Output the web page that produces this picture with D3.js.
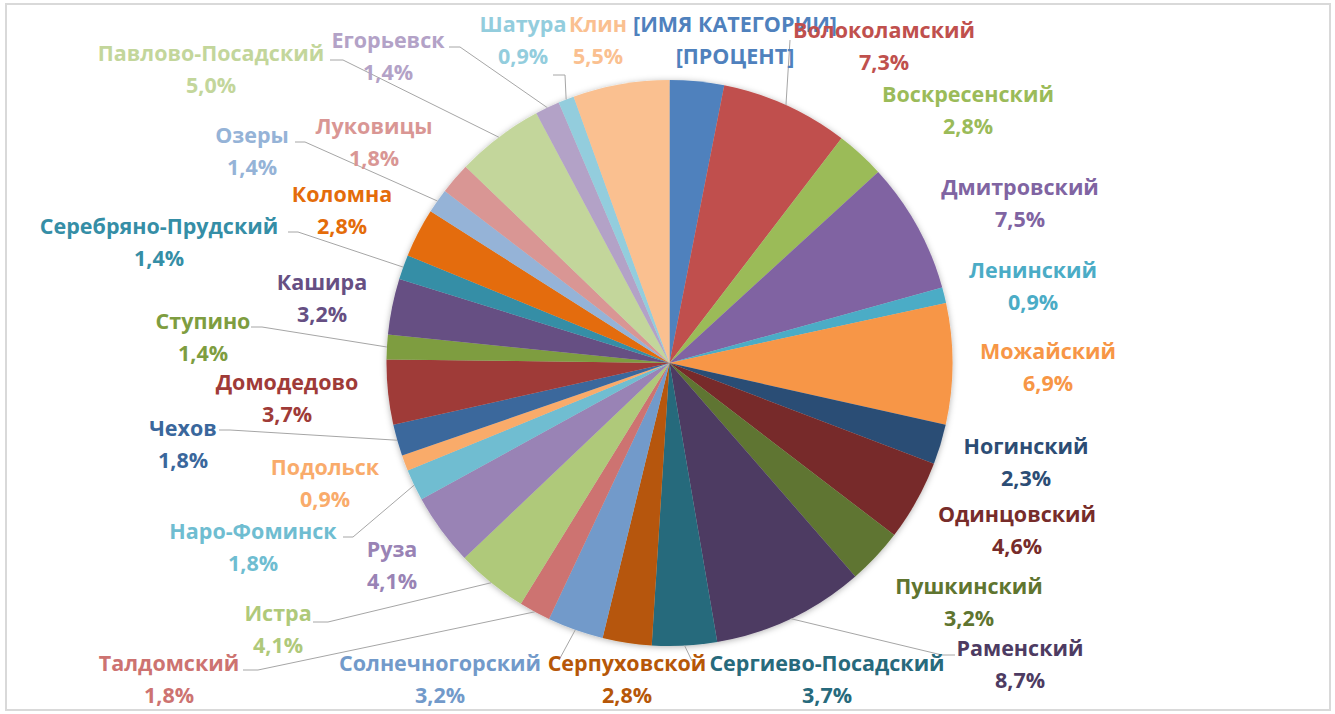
<!DOCTYPE html>
<html lang="ru">
<head>
<meta charset="utf-8">
<script src="https://cdn.jsdelivr.net/npm/d3@7"></script>
<style>
  html, body { margin: 0; padding: 0; background: #fff; }
  svg { display: block; }
  .lbl { font-family: "Open Sans", "Noto Sans", sans-serif; font-weight: 700; font-size: 21.5px; }
</style>
</head>
<body>
<svg id="chart" width="1335" height="714"></svg>
<script>
// Доли районов (в процентах), по часовой стрелке от 12 часов
const categories = [
  "[ИМЯ КАТЕГОРИИ]", "Волоколамский", "Воскресенский", "Дмитровский", "Ленинский",
  "Можайский", "Ногинский", "Одинцовский", "Пушкинский", "Раменский",
  "Сергиево-Посадский", "Серпуховской", "Солнечногорский", "Талдомский", "Истра",
  "Руза", "Наро-Фоминск", "Подольск", "Чехов", "Домодедово",
  "Ступино", "Кашира", "Серебряно-Прудский", "Коломна", "Озеры",
  "Луковицы", "Павлово-Посадский", "Егорьевск", "Шатура", "Клин"
];
const shares = [
  3.1, 7.3, 2.8, 7.5, 0.9,
  6.9, 2.3, 4.6, 3.2, 8.7,
  3.7, 2.8, 3.2, 1.8, 4.1,
  4.1, 1.8, 0.9, 1.8, 3.7,
  1.4, 3.2, 1.4, 2.8, 1.4,
  1.8, 5.0, 1.4, 0.9, 5.5
];
// Placeholder text shown instead of a value for the first slice
const placeholderPercent = "[ПРОЦЕНТ]";

// Office palette: base, darker, lighter, darker-2, lighter-2
const palette = [
  "#4F81BD", "#C0504D", "#9BBB59", "#8064A2", "#4BACC6", "#F79646",
  "#2C4D75", "#772C2A", "#5F7530", "#4D3B62", "#276A7C", "#B65708",
  "#729ACA", "#CD7371", "#AFC97A", "#9983B5", "#6FBDD1", "#F9AB6B",
  "#3A679C", "#9F3B38", "#7E9D40", "#664F83", "#358EA6", "#E46C0A",
  "#95B3D7", "#D99694", "#C3D69B", "#B3A2C7", "#93CDDD", "#FAC090"
];

// Label placement (centre of the name line), one per category
const labelPos = [
  [735, 24], [884, 30], [968, 94], [1020, 187], [1033, 270],
  [1048, 351], [1026, 446], [1017, 514], [969, 586], [1020, 648],
  [827, 663], [627, 663], [440, 663], [169, 663], [278, 613],
  [392, 549], [253, 531], [325, 467], [183, 428], [287, 382],
  [203, 321], [322, 282], [159, 226], [342, 194], [252, 135],
  [374, 126], [211, 53], [388, 40], [523, 24], [598, 24]
];
// Leader lines: index -> [startX, startY, stubX]
const leaders = {
  1:  [790, 40, 790],
  9:  [955, 655, 942],
  10: [692, 661, 692],
  12: [559, 660, 559],
  13: [243, 670, 258],
  14: [313, 622, 328],
  16: [343, 537, 353],
  18: [219, 430, 230],
  20: [251, 327, 262],
  22: [288, 232, 298],
  24: [295, 142, 305],
  26: [330, 60, 343],
  27: [449, 47, 460],
  28: [553, 75, 565]
};

const cx = 669.5, cy = 363, radius = 283;
const svg = d3.select("#chart");

// outer frame
svg.append("rect")
  .attr("x", 6).attr("y", 4).attr("width", 1324).attr("height", 706)
  .attr("fill", "#fff").attr("stroke", "#d9d9d9").attr("stroke-width", 2);

const defs = svg.append("defs");
const f = defs.append("filter").attr("id", "pieShadow")
  .attr("x", "-10%").attr("y", "-10%").attr("width", "120%").attr("height", "120%");
f.append("feDropShadow").attr("dx", 0).attr("dy", 1).attr("stdDeviation", 3)
  .attr("flood-color", "#000").attr("flood-opacity", 0.3);

const pie = d3.pie().value(d => d.v).sort(null);
const data = categories.map((c, i) => ({ name: c, v: shares[i], i }));
const arcs = pie(data);
const arc = d3.arc().innerRadius(0).outerRadius(radius);

const g = svg.append("g").attr("transform", `translate(${cx},${cy})`);
g.append("g").attr("filter", "url(#pieShadow)")
  .selectAll("path").data(arcs).join("path")
  .attr("d", arc)
  .attr("fill", d => palette[d.data.i]);

// leader lines to the outer edge of each slice
const edgePoint = d => {
  const a = (d.startAngle + d.endAngle) / 2;
  return [cx + radius * Math.sin(a), cy - radius * Math.cos(a)];
};
const leaderG = svg.append("g");
Object.keys(leaders).forEach(k => {
  const i = +k;
  const [sx, sy, stx] = leaders[k];
  const [ex, ey] = edgePoint(arcs[i]);
  leaderG.append("path")
    .attr("d", `M${sx},${sy}L${stx},${sy}L${ex},${ey}`)
    .attr("fill", "none").attr("stroke", "#a6a6a6").attr("stroke-width", 1);
});

// data labels: name + percent
const fmt = v => d3.format(".1f")(v).replace(".", ",") + "%";
const lab = svg.append("g");
arcs.forEach(d => {
  const i = d.data.i;
  const [x, y] = labelPos[i];
  const t = lab.append("text").attr("class", "lbl")
    .attr("text-anchor", "middle").attr("fill", palette[i]);
  t.append("tspan").attr("x", x).attr("y", y + 8).text(d.data.name);
  t.append("tspan").attr("x", x).attr("y", y + 8 + 32)
    .text(i === 0 ? placeholderPercent : fmt(d.data.v));
});
</script>
</body>
</html>
